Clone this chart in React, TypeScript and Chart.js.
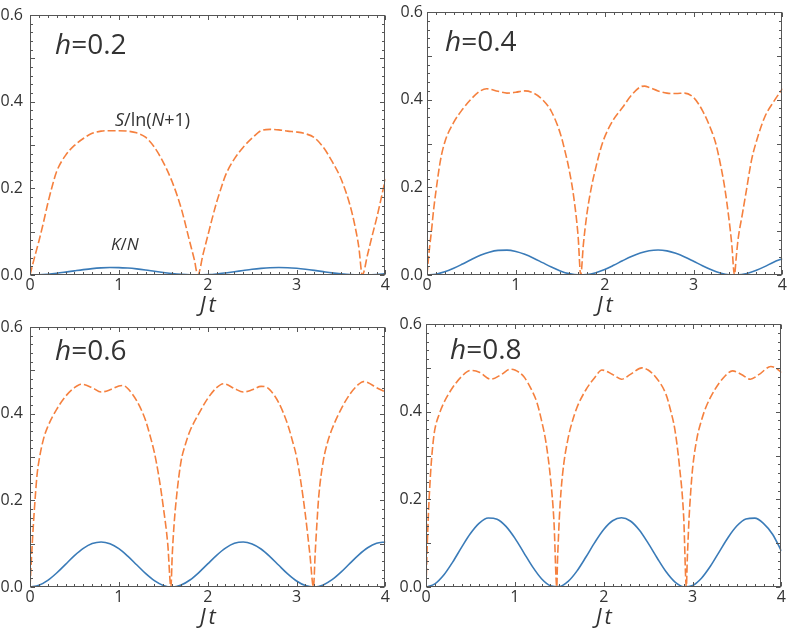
import { useEffect, useRef } from "react";
import { Chart, registerables } from "chart.js";

Chart.register(...registerables);

// ---------------- data ----------------
const X_TICKS = [0, 1, 2, 3, 4];
const Y_TICKS = [0, 0.2, 0.4, 0.6];
const H_LABELS = ["0.2", "0.4", "0.6", "0.8"];

// time grid for K/N curves
const K_TIME = [0, 0.1, 0.2, 0.3, 0.4, 0.5, 0.6, 0.7, 0.8, 0.9, 1, 1.1, 1.2, 1.3, 1.4, 1.5, 1.6, 1.7, 1.8, 1.9, 2, 2.1, 2.2, 2.3, 2.4, 2.5, 2.6, 2.7, 2.8, 2.9, 3, 3.1, 3.2, 3.3, 3.4, 3.5, 3.6, 3.7, 3.8, 3.9, 4];

// K/N, h = 0.2
const K1 = [0, 0.0005, 0.0019, 0.004, 0.0067, 0.0096, 0.0124, 0.0148, 0.0164, 0.0172, 0.0171, 0.016, 0.0141, 0.0116, 0.0087, 0.0059, 0.0033, 0.0014, 0.0002, 0, 0.0008, 0.0024, 0.0048, 0.0075, 0.0104, 0.0131, 0.0152, 0.0167, 0.0172, 0.0168, 0.0154, 0.0133, 0.0107, 0.0078, 0.005, 0.0027, 0.0009, 0.0001, 0.0002, 0.0012, 0.0031];
// K/N, h = 0.4
const K2 = [0, 0.0019, 0.0072, 0.0153, 0.0251, 0.0354, 0.0448, 0.052, 0.0562, 0.0568, 0.0537, 0.0472, 0.0384, 0.0283, 0.0182, 0.0094, 0.0031, 0.0002, 0.0009, 0.0053, 0.0126, 0.0221, 0.0324, 0.0422, 0.0502, 0.0553, 0.057, 0.055, 0.0494, 0.0413, 0.0314, 0.0211, 0.0119, 0.0047, 0.0007, 0.0003, 0.0036, 0.0102, 0.0191, 0.0293, 0.037];
// K/N, h = 0.6
const K3 = [0, 0.004, 0.0153, 0.0323, 0.0523, 0.0722, 0.089, 0.1003, 0.104, 0.0998, 0.0884, 0.0712, 0.0513, 0.0313, 0.0146, 0.0036, 0, 0.0044, 0.0161, 0.0333, 0.0533, 0.0732, 0.0898, 0.1007, 0.104, 0.0993, 0.0877, 0.0703, 0.0501, 0.0303, 0.0138, 0.0032, 0, 0.0048, 0.0168, 0.0342, 0.0544, 0.0742, 0.0905, 0.101, 0.104];
// K/N, h = 0.8
const K4 = [0, 0.0072, 0.0273, 0.0568, 0.0904, 0.1219, 0.1457, 0.1573, 0.1546, 0.1384, 0.1115, 0.0785, 0.0458, 0.0189, 0.003, 0.0009, 0.0129, 0.0368, 0.0684, 0.1019, 0.1313, 0.1512, 0.158, 0.1505, 0.13, 0.1, 0.0668, 0.0354, 0.0119, 0.0006, 0.0035, 0.0201, 0.0473, 0.0803, 0.1131, 0.1396, 0.1553, 0.1571, 0.1447, 0.1204, 0.082];

// S/ln(N+1), h = 0.2
const T1 = [0, 0.05, 0.1, 0.15, 0.2, 0.25, 0.3, 0.4, 0.5, 0.6, 0.7, 0.8, 0.9, 1.0, 1.1, 1.2, 1.3, 1.4, 1.5, 1.6, 1.7, 1.8, 1.85, 1.888, 1.95, 2.0, 2.05, 2.1, 2.15, 2.2, 2.3, 2.4, 2.5, 2.6, 2.7, 2.8, 2.9, 3.0, 3.1, 3.2, 3.3, 3.4, 3.5, 3.6, 3.65, 3.7, 3.74, 3.8, 3.85, 3.9, 3.95, 4.0];
const S1 = [0, 0.04, 0.078, 0.12, 0.165, 0.205, 0.239, 0.276, 0.299, 0.315, 0.327, 0.332, 0.333, 0.333, 0.332, 0.328, 0.318, 0.295, 0.26, 0.215, 0.155, 0.075, 0.035, 0, 0.05, 0.09, 0.13, 0.168, 0.2, 0.23, 0.268, 0.295, 0.316, 0.333, 0.336, 0.335, 0.332, 0.33, 0.326, 0.317, 0.295, 0.262, 0.222, 0.162, 0.12, 0.065, 0, 0.048, 0.09, 0.13, 0.175, 0.222];
// S/ln(N+1), h = 0.4
const T2 = [0, 0.015, 0.03, 0.05, 0.075, 0.1, 0.15, 0.2, 0.3, 0.4, 0.5, 0.6, 0.67, 0.8, 0.9, 1.0, 1.1, 1.2, 1.3, 1.4, 1.5, 1.55, 1.6, 1.65, 1.7, 1.73, 1.76, 1.8, 1.85, 1.9, 1.95, 2.0, 2.1, 2.2, 2.3, 2.4, 2.45, 2.5, 2.6, 2.7, 2.8, 2.9, 3.0, 3.1, 3.2, 3.25, 3.3, 3.35, 3.4, 3.43, 3.46, 3.48, 3.5, 3.55, 3.6, 3.65, 3.7, 3.8, 3.9, 4.0];
const S2 = [0, 0.035, 0.065, 0.1, 0.15, 0.19, 0.26, 0.303, 0.348, 0.378, 0.402, 0.42, 0.425, 0.419, 0.415, 0.417, 0.42, 0.415, 0.4, 0.373, 0.323, 0.285, 0.24, 0.18, 0.09, 0, 0.07, 0.14, 0.2, 0.245, 0.285, 0.315, 0.355, 0.382, 0.41, 0.429, 0.431, 0.428, 0.42, 0.415, 0.414, 0.415, 0.405, 0.375, 0.33, 0.3, 0.255, 0.2, 0.125, 0.07, 0, 0.04, 0.08, 0.14, 0.2, 0.26, 0.3, 0.36, 0.395, 0.425];
// S/ln(N+1), h = 0.6
const T3 = [0, 0.02, 0.04, 0.06, 0.08, 0.1, 0.15, 0.2, 0.3, 0.4, 0.5, 0.58, 0.7, 0.8, 0.9, 1.0, 1.05, 1.1, 1.2, 1.3, 1.35, 1.4, 1.45, 1.5, 1.55, 1.586, 1.6, 1.62, 1.65, 1.7, 1.75, 1.8, 1.9, 2.0, 2.1, 2.18, 2.3, 2.4, 2.5, 2.6, 2.65, 2.7, 2.8, 2.9, 2.95, 3.0, 3.05, 3.1, 3.15, 3.19, 3.21, 3.23, 3.25, 3.3, 3.35, 3.4, 3.5, 3.6, 3.7, 3.75, 3.8, 3.9, 4.0];
const S3 = [0, 0.08, 0.15, 0.21, 0.26, 0.29, 0.34, 0.37, 0.41, 0.44, 0.46, 0.468, 0.46, 0.45, 0.455, 0.464, 0.465, 0.458, 0.43, 0.385, 0.35, 0.31, 0.255, 0.185, 0.1, 0, 0.07, 0.14, 0.21, 0.29, 0.33, 0.36, 0.4, 0.435, 0.46, 0.469, 0.458, 0.45, 0.455, 0.463, 0.462, 0.455, 0.425, 0.375, 0.34, 0.3, 0.24, 0.165, 0.075, 0, 0.08, 0.15, 0.21, 0.29, 0.335, 0.365, 0.41, 0.445, 0.468, 0.474, 0.472, 0.46, 0.45];
// S/ln(N+1), h = 0.8
const T4 = [0, 0.01, 0.02, 0.03, 0.04, 0.06, 0.08, 0.1, 0.15, 0.2, 0.3, 0.4, 0.5, 0.6, 0.73, 0.85, 0.95, 1.0, 1.1, 1.2, 1.25, 1.3, 1.35, 1.4, 1.44, 1.472, 1.48, 1.49, 1.5, 1.52, 1.55, 1.6, 1.65, 1.7, 1.8, 1.9, 1.98, 2.1, 2.2, 2.3, 2.43, 2.5, 2.6, 2.7, 2.75, 2.8, 2.85, 2.9, 2.93, 2.94, 2.95, 2.96, 2.98, 3.0, 3.05, 3.1, 3.15, 3.25, 3.35, 3.45, 3.55, 3.65, 3.75, 3.88, 3.95, 4.0];
const S4 = [0, 0.07, 0.13, 0.18, 0.22, 0.285, 0.33, 0.36, 0.395, 0.42, 0.455, 0.48, 0.494, 0.49, 0.474, 0.485, 0.497, 0.495, 0.48, 0.445, 0.42, 0.38, 0.33, 0.25, 0.15, 0, 0.06, 0.11, 0.155, 0.22, 0.28, 0.34, 0.38, 0.41, 0.45, 0.478, 0.495, 0.485, 0.474, 0.485, 0.5, 0.495, 0.475, 0.44, 0.405, 0.36, 0.28, 0.16, 0, 0.06, 0.11, 0.155, 0.22, 0.27, 0.34, 0.38, 0.41, 0.45, 0.478, 0.493, 0.485, 0.474, 0.485, 0.503, 0.498, 0.489];

const S_TIMES = [T1, T2, T3, T4];
const S_VALUES = [S1, S2, S3, S4];
const K_VALUES = [K1, K2, K3, K4];

// ---------------- styling / layout ----------------
const FONT = '"Open Sans", "DejaVu Sans", sans-serif';
const ORANGE = "#f5803e";
const BLUE = "#3a7bb8";
const FRAME = "#555555";
const TEXT = "#333333";

type Seg = { t: string; i: boolean };

const LAYOUT = [
  { left: 0, top: 0, w: 392, h: 322, axisW: 30, padR: 5, axisH: 47, labPad: 7, hdx: 25, hdy: 39 },
  { left: 392, top: 0, w: 397, h: 322, axisW: 35, padR: 4, axisH: 47, labPad: 4, hdx: 18, hdy: 39 },
  { left: 0, top: 312, w: 392, h: 318, axisW: 30, padR: 5, axisH: 43, labPad: 7, hdx: 25, hdy: 33 },
  { left: 392, top: 312, w: 396, h: 318, axisW: 34, padR: 4, axisH: 43, labPad: 4, hdx: 24, hdy: 35 },
];

function drawSegs(ctx: CanvasRenderingContext2D, segs: Seg[], x: number, y: number, size: number) {
  let cx = x;
  ctx.textAlign = "left";
  ctx.textBaseline = "alphabetic";
  for (const s of segs) {
    ctx.font = `${s.i ? "italic " : ""}${size}px ${FONT}`;
    ctx.fillText(s.t, cx, y);
    cx += ctx.measureText(s.t).width;
  }
}

function Panel({ idx }: { idx: number }) {
  const ref = useRef<HTMLCanvasElement | null>(null);
  const L = LAYOUT[idx];

  useEffect(() => {
    if (!ref.current) return;
    const frame = {
      id: "frame" + idx,
      afterDraw(chart: any) {
        const { ctx, chartArea: a, scales } = chart;
        const xs = scales.x;
        const ys = scales.y;
        ctx.save();
        ctx.strokeStyle = FRAME;
        ctx.lineWidth = 1;
        const l = Math.round(a.left) + 0.5;
        const r = Math.round(a.right) - 0.5;
        const t = Math.round(a.top) + 0.5;
        const b = Math.round(a.bottom) - 0.5;
        ctx.strokeRect(l, t, r - l, b - t);
        ctx.beginPath();
        for (let k = 0; k <= 40; k++) {
          const px = Math.round(xs.getPixelForValue(k / 10)) + 0.5;
          const len = k % 10 === 0 ? 4.5 : 2.5;
          ctx.moveTo(px, b);
          ctx.lineTo(px, b - len);
          ctx.moveTo(px, t);
          ctx.lineTo(px, t + len);
        }
        for (let k = 0; k <= 30; k++) {
          const py = Math.round(ys.getPixelForValue(k * 0.02)) + 0.5;
          const len = k % 5 === 0 ? 4.5 : 2.5;
          ctx.moveTo(l, py);
          ctx.lineTo(l + len, py);
          ctx.moveTo(r, py);
          ctx.lineTo(r - len, py);
        }
        ctx.stroke();

        ctx.fillStyle = TEXT;
        // panel label
        drawSegs(ctx, [{ t: "h", i: true }, { t: "=" + H_LABELS[idx], i: false }], a.left + L.hdx, a.top + L.hdy, 28);
        // x-axis title
        ctx.font = `italic 22px ${FONT}`;
        ctx.textAlign = "center";
        ctx.textBaseline = "middle";
        (ctx as any).letterSpacing = "3px";
        ctx.fillText("Jt", (a.left + a.right) / 2 + 1.5, a.bottom + 31);
        (ctx as any).letterSpacing = "0px";
        if (idx === 0) {
          drawSegs(ctx, [{ t: "S", i: true }, { t: "/ln(", i: false }, { t: "N", i: true }, { t: "+1)", i: false }], 115, 126, 18);
          drawSegs(ctx, [{ t: "K", i: true }, { t: "/", i: false }, { t: "N", i: true }], 111, 250, 17);
        }
        ctx.restore();
      },
    };

    const chart = new Chart(ref.current, {
      type: "line",
      data: {
        datasets: [
          {
            label: "S/ln(N+1)",
            data: S_TIMES[idx].map((t, i) => ({ x: t, y: S_VALUES[idx][i] })),
            borderColor: ORANGE,
            borderWidth: 1.6,
            borderDash: [8, 3],
            pointRadius: 0,
            fill: false,
            cubicInterpolationMode: "monotone",
          },
          {
            label: "K/N",
            data: K_TIME.map((t, i) => ({ x: t, y: K_VALUES[idx][i] })),
            borderColor: BLUE,
            borderWidth: 1.6,
            pointRadius: 0,
            fill: false,
            cubicInterpolationMode: "monotone",
          },
        ],
      },
      options: {
        responsive: false,
        animation: false,
        events: [],
        layout: { padding: { left: 0, top: 9, right: L.padR, bottom: 0 } },
        plugins: { legend: { display: false }, tooltip: { enabled: false }, title: { display: false } },
        scales: {
          x: {
            type: "linear",
            min: 0,
            max: 4,
            grid: { display: false, drawTicks: false },
            border: { display: false },
            ticks: {
              color: TEXT,
              font: { family: FONT, size: 16, lineHeight: 1 },
              padding: 2,
              maxRotation: 0,
              autoSkip: false,
              callback: (v: any) => String(v),
            },
            afterBuildTicks: (s: any) => {
              s.ticks = X_TICKS.map((v) => ({ value: v }));
            },
            afterFit: (s: any) => {
              s.height = L.axisH;
            },
          },
          y: {
            type: "linear",
            min: 0,
            max: 0.6,
            grid: { display: false, drawTicks: false },
            border: { display: false },
            ticks: {
              color: TEXT,
              font: { family: FONT, size: 16, lineHeight: 1 },
              padding: L.labPad,
              autoSkip: false,
              callback: (v: any) => Number(v).toFixed(1),
            },
            afterBuildTicks: (s: any) => {
              s.ticks = Y_TICKS.map((v) => ({ value: v }));
            },
            afterFit: (s: any) => {
              s.width = L.axisW;
            },
          },
        },
      } as any,
      plugins: [frame],
    });
    return () => chart.destroy();
  }, [idx]);

  return (
    <canvas
      ref={ref}
      width={L.w}
      height={L.h}
      style={{ position: "absolute", left: L.left, top: L.top, width: L.w, height: L.h }}
    />
  );
}

export default function App() {
  return (
    <div style={{ position: "absolute", left: 0, top: 0, width: 789, height: 630, background: "#ffffff", overflow: "hidden" }}>
      {[0, 1, 2, 3].map((i) => (
        <Panel key={i} idx={i} />
      ))}
    </div>
  );
}
